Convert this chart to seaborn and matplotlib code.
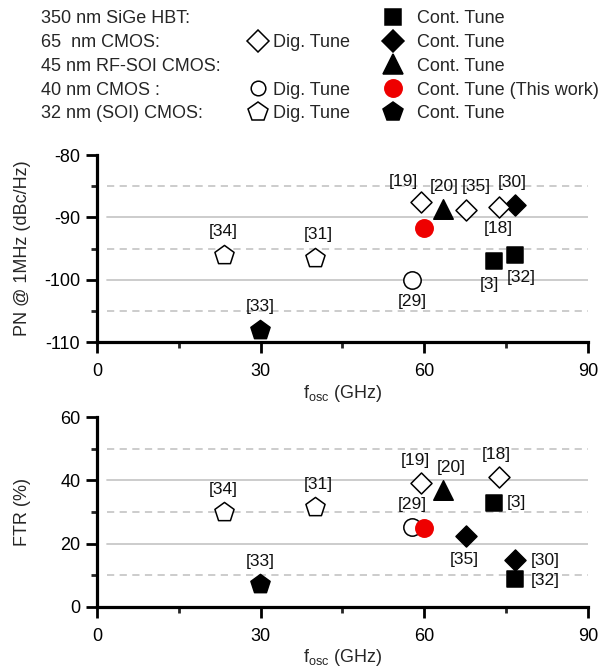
import numpy as np
import pandas as pd
import matplotlib
matplotlib.use("Agg")
import matplotlib.pyplot as plt
import seaborn as sns
from matplotlib.lines import Line2D
from matplotlib.ticker import MultipleLocator

# ---------------- data ----------------
refs = ["[34]", "[31]", "[33]", "[29]", "This work", "[19]", "[20]", "[35]", "[18]", "[30]", "[3]", "[32]"]
freq_ghz = [23.3, 39.9, 29.9, 57.8, 60.0, 59.3, 63.5, 67.7, 73.7, 76.7, 72.8, 76.7]
pn_dbc = [-96.0, -96.6, -108.0, -100.0, -91.7, -87.5, -88.7, -88.8, -88.3, -88.0, -97.0, -96.0]
ftr_pct = [30.1, 31.7, 7.4, 25.4, 25.0, 39.1, 36.8, 22.4, 41.2, 14.8, 33.0, 8.8]
shape = ["pent", "pent", "pent", "circ", "circ", "diam", "tri", "diam", "diam", "diam", "sq", "sq"]
fill_pn = ["open", "open", "black", "open", "red", "open", "black", "open", "open", "black", "black", "black"]
fill_ftr = ["open", "open", "black", "open", "red", "open", "black", "black", "open", "black", "black", "black"]

legend_tech = ["350 nm SiGe HBT:", "65  nm CMOS:", "45 nm RF-SOI CMOS:", "40 nm CMOS :", "32 nm (SOI) CMOS:"]
legend_dig = [None, "diam", None, "circ", "pent"]
legend_cont = ["sq", "diam", "tri", "circ", "pent"]
legend_cont_fill = ["black", "black", "black", "red", "black"]
legend_cont_labels = ["Cont. Tune", "Cont. Tune", "Cont. Tune", "Cont. Tune (This work)", "Cont. Tune"]

pn_ticks = [-110, -100, -90, -80]
ftr_ticks = [0, 20, 40, 60]
x_ticks = [0, 30, 60, 90]

# ---------------- style ----------------
marker_of = {"pent": "p", "circ": "o", "diam": "D", "tri": "^", "sq": "s"}
ms_of = {"pent": 14.5, "circ": 12.5, "diam": 10.7, "tri": 14, "sq": 11.5}
legend_ms = {"pent": 14.5, "circ": 10.5, "diam": 10.7, "tri": 14, "sq": 11.5}
face_of = {"open": "white", "black": "black", "red": "#ee0000"}
edge_of = {"open": "black", "black": "black", "red": "#ee0000"}

off_pn = {"[34]": (-1, 23), "[31]": (4, 24), "[33]": (0, 23), "[29]": (0, -22),
          "[19]": (-17, 20), "[20]": (1, 23), "[35]": (10, 23), "[30]": (-3, 22),
          "[18]": (-1, -22), "[3]": (-5, -24), "[32]": (6, -23)}
off_ftr = {"[34]": (-1, 22), "[31]": (4, 22), "[33]": (0, 22), "[19]": (-5, 23),
           "[20]": (8, 23), "[18]": (-3, 22), "[3]": (22, 0), "[29]": (0, 22),
           "[35]": (-2, -23), "[30]": (30, 0), "[32]": (30, -1)}

sns.set_theme(style="ticks")
plt.rcParams["font.family"] = ["Liberation Sans", "DejaVu Sans"]
plt.rcParams["mathtext.fontset"] = "custom"
plt.rcParams["mathtext.rm"] = "Liberation Sans"
plt.rcParams["mathtext.it"] = "Liberation Sans:italic"
plt.rcParams["axes.unicode_minus"] = False

FS = 13
df = pd.DataFrame({"ref": refs, "f": freq_ghz, "pn": pn_dbc, "ftr": ftr_pct,
                   "shape": shape, "fill_pn": fill_pn, "fill_ftr": fill_ftr})
df["order"] = np.where(df["ref"] == "This work", 1, 0)

fig = plt.figure(figsize=(6.08, 6.71), dpi=100)
ax1 = fig.add_axes([0.1595, 0.4903, 0.8076, 0.2787])
ax2 = fig.add_axes([0.1595, 0.0954, 0.8076, 0.2831])


def draw(ax, ycol, fillcol, offsets, yticks, ylim, minor_step, grid_major, grid_minor, ylabel):
    for gy in grid_major:
        ax.axhline(gy, xmin=0.02, xmax=1, color="#c8c8c8", lw=1.3, zorder=0)
    for gy in grid_minor:
        ax.axhline(gy, xmin=0.02, xmax=1, color="#c8c8c8", lw=1.3, ls=(0, (4, 3)), zorder=0)
    for order in [0, 1]:
        for (sh, fl), sub in df[df["order"] == order].groupby(["shape", fillcol]):
            sns.scatterplot(data=sub, x="f", y=ycol, ax=ax, marker=marker_of[sh],
                            s=ms_of[sh] ** 2, color=face_of[fl], edgecolor=edge_of[fl],
                            linewidth=1.1, legend=False, zorder=3 + order, clip_on=False)
    for _, r in df.iterrows():
        if r["ref"] in offsets:
            ax.annotate(r["ref"], (r["f"], r[ycol]), xytext=offsets[r["ref"]],
                        textcoords="offset pixels", ha="center", va="center",
                        fontsize=12.5, color="#111111", zorder=5)
    ax.set_xlim(0, 90)
    ax.set_ylim(*ylim)
    ax.set_xticks(x_ticks)
    ax.set_yticks(yticks)
    ax.xaxis.set_minor_locator(MultipleLocator(15))
    ax.yaxis.set_minor_locator(MultipleLocator(minor_step))
    for s in ["top", "right"]:
        ax.spines[s].set_visible(False)
    for s in ["left", "bottom"]:
        ax.spines[s].set_linewidth(2.3)
        ax.spines[s].set_color("black")
    ax.tick_params(which="major", length=8, width=2, direction="out", labelsize=FS,
                   colors="black")
    ax.tick_params(which="minor", length=4.5, width=2, direction="out")
    ax.tick_params(axis="x", which="major", pad=7)
    ax.tick_params(axis="y", which="major", pad=4)
    ax.set_xlabel(r"f$_{\mathrm{osc}}$ (GHz)", fontsize=FS)
    ax.xaxis.label.set_va("center")
    ax.set_ylabel(ylabel, fontsize=FS)
    ax.yaxis.label.set_va("center")
    ax.yaxis.set_label_coords(-0.152, 0.5)
    ax.set_facecolor("white")


draw(ax1, "pn", "fill_pn", off_pn, pn_ticks, (-110, -80), 5,
     [-90, -100], [-85, -95, -105], "PN @ 1MHz (dBc/Hz)")
ax1.xaxis.set_label_coords(0.5, -51 / 187)
draw(ax2, "ftr", "fill_ftr", off_ftr, ftr_ticks, (0, 60), 10,
     [20, 40], [10, 30, 50], "FTR (%)")
ax2.xaxis.set_label_coords(0.5, -51 / 190)


# ---------------- legend block ----------------
def handle(sh, fl):
    if sh is None:
        return Line2D([], [], ls="none", marker=None)
    size = legend_ms[sh] if fl == "open" else ms_of[sh]
    return Line2D([], [], ls="none", marker=marker_of[sh], ms=size,
                  mfc=face_of[fl], mec=edge_of[fl], mew=1.1)


top_y = 1 - 10 / 671
common = dict(loc="upper left", frameon=False, fontsize=FS, labelspacing=0.38,
              borderpad=0, borderaxespad=0, handleheight=0.7)
lg1 = fig.legend([handle(None, None) for _ in legend_tech], legend_tech,
                 bbox_to_anchor=(41 / 608, top_y), handlelength=0, handletextpad=0, **common)
lg2 = fig.legend([handle(s, "open") for s in legend_dig],
                 ["Dig. Tune" if s else " " for s in legend_dig],
                 bbox_to_anchor=(249 / 608, top_y), handlelength=1.0, handletextpad=0.35, **common)
lg3 = fig.legend([handle(s, f) for s, f in zip(legend_cont, legend_cont_fill)], legend_cont_labels,
                 bbox_to_anchor=(384 / 608, top_y), handlelength=1.0, handletextpad=0.83, **common)

fig.savefig("out.png", dpi=100, facecolor="white")
